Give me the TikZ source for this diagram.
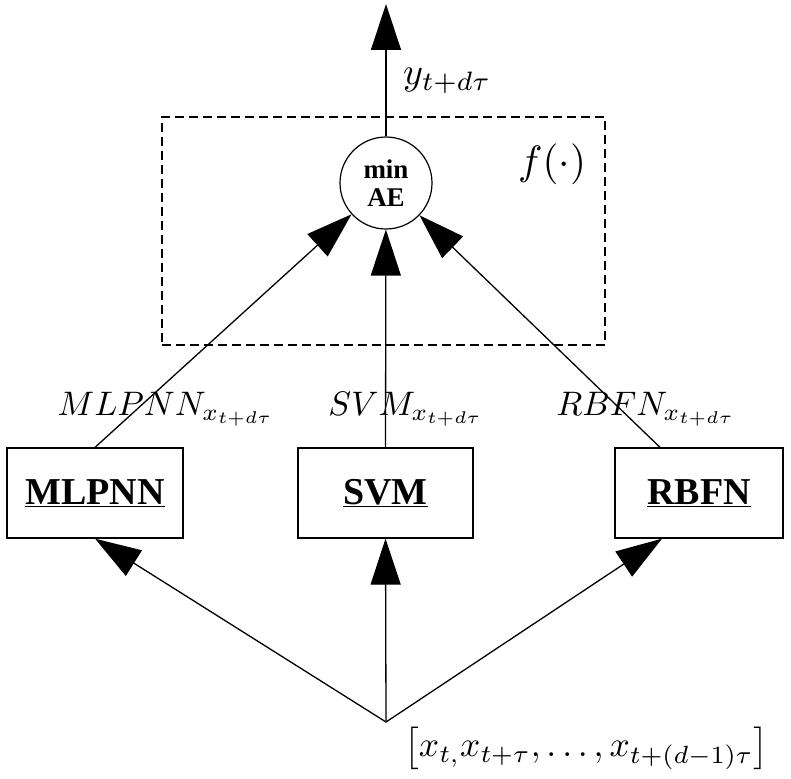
\documentclass[tikz,border=0pt]{standalone}
\usepackage{fontspec}
\setmainfont{Liberation Serif}
\usetikzlibrary{arrows.meta}
\newcommand\bigmath[2][3.4]{\scalebox{#1}{$#2$}}
\tikzset{
  arr/.style={line width=1.3pt,-{Triangle[length=46pt,width=30pt]}},
  modelbox/.style={draw,line width=1.3pt,minimum height=90pt,font=\fontsize{38}{42}\selectfont\bfseries},
  mlab/.style={inner sep=0pt},
  dashbox/.style={draw,dashed,line width=1.1pt,dash pattern=on 9pt off 5pt}
}
\begin{document}
\begin{tikzpicture}[x=1pt,y=-1pt]
\useasboundingbox (0,0) rectangle (791,778);
\node[dashbox,minimum width=443pt,minimum height=228pt] (fbox) at (383.5,231) {};
\node[draw,circle,line width=1.2pt,minimum size=92pt,inner sep=0pt,align=center,
      font=\fontsize{27}{28}\selectfont\bfseries] (ae) at (386,183) {min\\AE};
\coordinate (top) at (386,4);
\node[modelbox,minimum width=176pt] (mlp) at (95,493) {\underline{MLPNN}};
\node[modelbox,minimum width=175pt] (svm) at (385.5,493) {\underline{SVM}};
\node[modelbox,minimum width=168pt] (rbf) at (699,493) {\underline{RBFN}};
\coordinate (in) at (386,722);
% output
\draw[arr] (ae) -- (top);
% model outputs to min AE
\draw[arr] (mlp.north) -- (ae);
\draw[arr] (svm.north) -- (ae);
\draw[arr] ([xshift=-39pt]rbf.north) -- (ae);
% inputs to models
\draw[arr] (in) -- (mlp.south);
\draw[arr] (in) -- (svm.south);
\draw[arr] (in) -- ([xshift=-37pt]rbf.south);
% labels
\node[mlab,anchor=base west] (ylab) at (403,85) {\bigmath[3.8]{y_{t+d\tau}}};
\node[mlab,anchor=base west] (flab) at (518,174) {\bigmath[4.1]{f(\cdot)}};
\node[mlab,anchor=base] (l1) at (166,415) {\bigmath{MLPNN_{x_{t+d\tau}}}};
\node[mlab,anchor=base] (l2) at (406,415) {\bigmath{SVM_{x_{t+d\tau}}}};
\node[mlab,anchor=base] (l3) at (646,415) {\bigmath{RBFN_{x_{t+d\tau}}}};
\node[mlab,anchor=west] (inlab) at (404,748) {\bigmath[3.55]{\left[x_{t,}x_{t+\tau},\ldots,x_{t+(d-1)\tau}\right]}};
\end{tikzpicture}
\end{document}
